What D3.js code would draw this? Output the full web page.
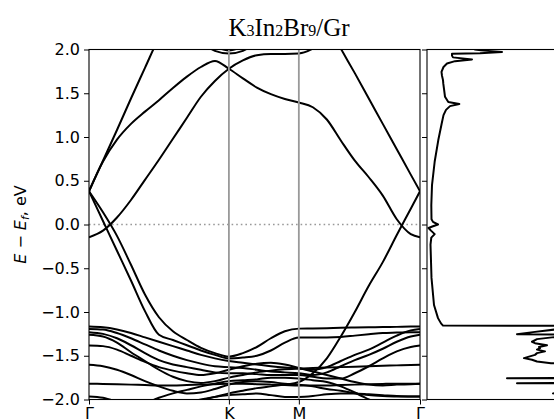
<!DOCTYPE html>
<html><head><meta charset="utf-8">
<script src="https://cdn.jsdelivr.net/npm/d3@7"></script>
<style>body{margin:0;background:#fff;} svg{display:block;}</style>
</head><body>
<svg id="c" width="554" height="419"></svg>
<script>
// ---------- data ----------
const kGrid = [0,0.1,0.2,0.3,0.4,0.5,0.6,0.7,0.8,0.9,1.0,1.1,1.2,1.3,1.4,1.5,1.6,1.7,1.8,1.9,2.0,2.1,2.2,2.3,2.366];
const kTicks = [0, 1.0, 1.5, 2.366];
const kLabels = ["Γ","K","M","Γ"];
const yTicks = [-2.0,-1.5,-1.0,-0.5,0.0,0.5,1.0,1.5,2.0];

const bandA  = [0.38,0.73,1.08,1.44,1.79,2.14,2.45,2.7,2.85,2.95,3.0,3.0,3.0,3.0,3.0,2.9,2.6,2.3,2.01,1.73,1.44,1.15,0.86,0.57,0.38];
const bandB  = [0.38,0.72,0.97,1.15,1.29,1.42,1.56,1.69,1.80,1.87,1.78,1.67,1.565,1.49,1.435,1.395,1.34,1.2,0.96,0.73,0.54,0.33,0.06,-0.11,-0.145];
const bandC  = [-0.145,-0.07,0.08,0.28,0.51,0.74,0.98,1.22,1.46,1.64,1.78,1.875,1.935,1.95,1.95,1.955,2.01,2.12,2.3,2.5,2.7,2.9,3.0,3.1,3.1];
const bandE1 = [null,null,null,null,null,null,null,2.3,2.1,1.985,1.955,1.985,2.1,2.3,null,null,null,null,null,null,null,null,null,null,null];
const bandE2 = [null,null,null,null,null,null,null,null,2.1,2.03,1.99,2.03,2.1,null,null,null,null,null,null,null,null,null,null,null,null];
const bandD1 = [0.38,0.04,-0.30,-0.64,-0.99,-1.26,-1.32,-1.38,-1.44,-1.49,-1.53,-1.52,-1.50,-1.44,-1.35,-1.292,-1.29,-1.29,-1.285,-1.27,-1.255,-1.24,-1.235,-1.23,-1.23];
const bandD2 = [0.38,0.14,-0.13,-0.46,-0.80,-1.06,-1.22,-1.32,-1.41,-1.47,-1.51,-1.47,-1.40,-1.30,-1.22,-1.19,-1.188,-1.185,-1.18,-1.178,-1.175,-1.172,-1.17,-1.167,-1.167];
const bandD3 = [-2.6,-2.5,-2.4,-2.3,-2.2,-2.15,-2.1,-2.05,-2.01,-1.97,-1.93,-1.9,-1.87,-1.85,-1.83,-1.80,-1.70,-1.53,-1.28,-1.0,-0.7,-0.43,-0.12,0.18,0.38];
const bandV1 = [-1.167,-1.175,-1.2,-1.24,-1.29,-1.34,-1.39,-1.44,-1.49,-1.53,-1.56,-1.58,-1.6,-1.62,-1.635,-1.645,-1.66,-1.63,-1.56,-1.49,-1.43,-1.35,-1.27,-1.21,-1.193];
const bandV2 = [-1.193,-1.2,-1.24,-1.3,-1.37,-1.44,-1.5,-1.55,-1.59,-1.62,-1.63,-1.64,-1.66,-1.68,-1.69,-1.70,-1.72,-1.69,-1.62,-1.55,-1.49,-1.42,-1.34,-1.28,-1.26];
const bandV3 = [-1.23,-1.25,-1.3,-1.38,-1.47,-1.55,-1.6,-1.63,-1.66,-1.69,-1.70,-1.7,-1.71,-1.72,-1.72,-1.72,-1.74,-1.76,-1.76,-1.7,-1.62,-1.53,-1.45,-1.4,-1.383];
const bandV4 = [-1.261,-1.28,-1.35,-1.46,-1.56,-1.66,-1.74,-1.79,-1.81,-1.79,-1.75,-1.72,-1.69,-1.67,-1.655,-1.645,-1.64,-1.635,-1.63,-1.625,-1.62,-1.615,-1.61,-1.605,-1.604];
const bandV5 = [-1.383,-1.39,-1.43,-1.5,-1.57,-1.63,-1.67,-1.7,-1.72,-1.7,-1.66,-1.62,-1.59,-1.58,-1.6,-1.64,-1.68,-1.72,-1.76,-1.8,-1.83,-1.84,-1.83,-1.825,-1.82];
const bandV6 = [-1.604,-1.62,-1.66,-1.72,-1.79,-1.85,-1.9,-1.93,-1.92,-1.88,-1.83,-1.8,-1.79,-1.8,-1.82,-1.83,-1.85,-1.88,-1.9,-1.93,-1.95,-1.96,-1.965,-1.965,-1.965];
const bandV7 = [-1.821,-1.822,-1.825,-1.83,-1.835,-1.84,-1.84,-1.835,-1.83,-1.825,-1.82,-1.82,-1.825,-1.83,-1.835,-1.84,-1.84,-1.84,-1.835,-1.83,-1.825,-1.822,-1.82,-1.82,-1.82];
const bandV8 = [-1.965,-1.98,-2.03,-2.1,-2.15,-2.15,-2.1,-2.05,-2.0,-1.97,-1.95,-1.94,-1.93,-1.95,-1.97,-1.97,-1.96,-1.94,-1.93,-1.93,-1.94,-1.95,-1.96,-1.965,-1.965];
const bandV9 = [-2.3,-2.25,-2.2,-2.12,-2.05,-1.98,-1.93,-1.89,-1.85,-1.82,-1.79,-1.78,-1.77,-1.75,-1.75,-1.76,-1.78,-1.8,-1.85,-1.92,-2.0,-2.08,-2.15,-2.2,-2.2];
const bands = [bandA,bandB,bandC,bandE1,bandE2,bandD1,bandD2,bandD3,bandV1,bandV2,bandV3,bandV4,bandV5,bandV6,bandV7,bandV8,bandV9];

const dosE = [2.05,2.0,1.99,1.972,1.958,1.952,1.93,1.91,1.887,1.867,1.84,1.80,1.745,1.70,1.65,1.61,1.55,1.46,1.40,1.376,1.353,1.31,1.25,1.155,0.965,0.72,0.45,0.22,0.06,0.03,0.0,-0.02,-0.04,-0.07,-0.11,-0.15,-0.23,-0.61,-0.92,-1.07,-1.13,-1.155,-1.16,-1.175,-1.2,-1.23,-1.253,-1.258,-1.27,-1.29,-1.31,-1.34,-1.356,-1.38,-1.40,-1.413,-1.43,-1.45,-1.47,-1.49,-1.51,-1.527,-1.545,-1.566,-1.585,-1.6,-1.7,-1.752,-1.756,-1.76,-1.80,-1.809,-1.813,-1.817,-1.9,-1.925,-1.93,-1.935,-2.05];
const dosV = [4.4,4.8,5.4,7.5,5.3,2.5,2.5,2.6,4.5,2.8,2.0,1.65,1.45,1.5,1.6,1.63,1.7,1.8,2.13,3.23,2.3,1.9,1.65,1.47,1.13,0.77,0.5,0.43,0.45,0.6,1.1,0.6,0.15,0.4,0.77,0.43,0.35,0.45,0.7,1.1,1.4,1.6,27,17,12.8,10.6,9.0,13,16,12.5,11.0,10.5,10.8,12.0,11.2,11.3,11.0,11.8,11.0,10.8,10.2,9.7,10.5,11.0,12.4,15,21,20,8.0,20,19,19,9.0,19,17,14,12.6,14,19];

// ---------- layout ----------
const svg = d3.select("#c");
const L = 89, R = 420, T = 49.5, B = 399.5;
const dL = 427;
const x = d3.scaleLinear().domain([0, 2.366]).range([L, R]);
const y = d3.scaleLinear().domain([-2, 2]).range([B, T]);
const xd = d3.scaleLinear().domain([0, 10]).range([dL, dL + 100]);

const defs = svg.append("defs");
defs.append("clipPath").attr("id","clipB").append("rect").attr("x",L).attr("y",T).attr("width",R-L).attr("height",B-T);
defs.append("clipPath").attr("id","clipD").append("rect").attr("x",dL).attr("y",T).attr("width",554-dL).attr("height",B-T);

// title
const title = svg.append("text").attr("x", 289).attr("y", 36).attr("text-anchor","middle")
  .style("font-family","'Liberation Serif', 'DejaVu Serif', serif").style("font-size","25px").attr("fill","#000");
const parts = [["K",0],["3",1],["In",0],["2",1],["Br",0],["9",1],["/Gr",0]];
parts.forEach(([t,s]) => title.append("tspan").text(t).style("font-size", s ? "16px" : null));

// zero line
svg.append("line").attr("x1",L).attr("x2",R).attr("y1",y(0)).attr("y2",y(0))
  .attr("stroke","#999").attr("stroke-width",1.6).attr("stroke-dasharray","1.6,3");

// bands
const line = d3.line().defined(d => d !== null).x((d,i) => x(kGrid[i])).y(d => y(d)).curve(d3.curveMonotoneX);
const gb = svg.append("g").attr("clip-path","url(#clipB)");
gb.selectAll("path.band").data(bands).join("path").attr("class","band")
  .attr("d", d => line(d)).attr("fill","none").attr("stroke","#000").attr("stroke-width",2);

// high-symmetry vertical lines
svg.selectAll("line.hs").data([kTicks[1], kTicks[2]]).join("line").attr("class","hs")
  .attr("x1", d => x(d)).attr("x2", d => x(d)).attr("y1", T).attr("y2", B)
  .attr("stroke","#999").attr("stroke-width",1.8);

// axes of band panel
const fontAxis = "'DejaVu Sans', sans-serif";
const ya = svg.append("g").attr("transform",`translate(${L},0)`)
  .call(d3.axisLeft(y).tickValues(yTicks).tickSize(5).tickPadding(4).tickFormat(d3.format(".1f")));
const xa = svg.append("g").attr("transform",`translate(0,${B})`)
  .call(d3.axisBottom(x).tickValues(kTicks).tickSize(5).tickPadding(3).tickFormat((d,i) => kLabels[i]));
[ya, xa].forEach(g => {
  g.select(".domain").remove();
  g.selectAll("text").style("font-family", fontAxis).style("font-size","16px").attr("fill","#000");
  g.selectAll("line").attr("stroke","#000").attr("stroke-width",1);
});
svg.append("rect").attr("x",L).attr("y",T).attr("width",R-L).attr("height",B-T)
  .attr("fill","none").attr("stroke","#000").attr("stroke-width",1.1);

// y label
const yl = svg.append("text").attr("transform","translate(26,224.5) rotate(-90)").attr("text-anchor","middle")
  .style("font-family", fontAxis).style("font-size","16px").attr("fill","#000");
yl.append("tspan").text("E").style("font-style","italic");
yl.append("tspan").text(" − ");
yl.append("tspan").text("E").style("font-style","italic");
yl.append("tspan").text("f").style("font-style","italic").style("font-size","11px").attr("dy",3);
yl.append("tspan").text(", eV").attr("dy",-3);

// DOS panel
const dosLine = d3.line().x((d,i) => xd(dosV[i])).y(d => y(d));
svg.append("g").attr("clip-path","url(#clipD)").append("path").attr("d", dosLine(dosE))
  .attr("fill","none").attr("stroke","#000").attr("stroke-width",2).attr("stroke-linejoin","round");
const da = svg.append("g").attr("transform",`translate(${dL},0)`)
  .call(d3.axisLeft(y).tickValues(yTicks).tickSize(5).tickFormat(""));
da.select(".domain").remove();
da.selectAll("line").attr("stroke","#000").attr("stroke-width",1);
svg.append("rect").attr("x",dL).attr("y",T).attr("width",200).attr("height",B-T)
  .attr("fill","none").attr("stroke","#000").attr("stroke-width",1.1);
</script>
</body></html>
